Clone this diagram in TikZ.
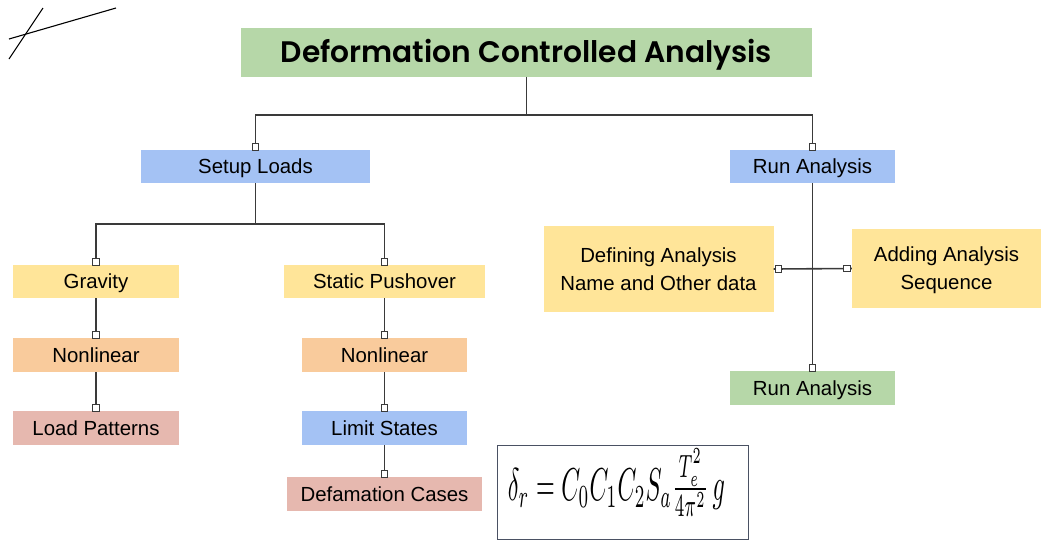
\documentclass[tikz,border=0pt]{standalone}
\usepackage{fontspec}
\usepackage{graphicx}
\setmainfont{Liberation Sans}
\newfontfamily\titlefont{Poppins SemiBold}
\definecolor{cgreen}{HTML}{B6D7A8}
\definecolor{cblue}{HTML}{A4C2F4}
\definecolor{cyellow}{HTML}{FFE599}
\definecolor{corange}{HTML}{F9CB9C}
\definecolor{cpink}{HTML}{E6B8AF}
\definecolor{cline}{HTML}{3A3A3A}
\definecolor{cframe}{HTML}{4A5163}
\begin{document}
\begin{tikzpicture}[x=1pt,y=-1pt,
  box/.style={rectangle, inner sep=0pt, draw=none, font=\fontsize{20.4}{23}\selectfont, align=center, text height=14.6pt, text depth=0pt},
  twoline/.style={font=\fontsize{20.4}{27.8}\selectfont, text height=42.4pt, text depth=0pt},
  conn/.style={draw=cline, line width=1.6pt},
  endsq/.style={rectangle, draw=cline, fill=white, line width=1.1pt, minimum size=6.5pt, inner sep=0pt}
]
\useasboundingbox (0,0) rectangle (1041,542);
\fill[white] (0,0) rectangle (1041,542);

% scribble
\coordinate (s1a) at (9,59);
\coordinate (s1b) at (43,8);
\coordinate (s2a) at (9,39);
\coordinate (s2b) at (116,8);
\draw[black, line width=1.1pt] (s1a) -- (s1b);
\draw[black, line width=1.1pt] (s2a) -- (s2b);

% nodes
\node[box, fill=cgreen, minimum width=571pt, minimum height=49pt, text height=21pt, text depth=0pt] (title) at (526.5,52.2)
  {\resizebox{491pt}{!}{\titlefont Deformation Controlled Analysis}};
\node[box, fill=cblue, minimum width=229pt, minimum height=33pt] (setup) at (255.5,166.5) {Setup Loads};
\node[box, fill=cblue, minimum width=165pt, minimum height=33pt] (run1) at (812.5,166.5) {Run Analysis};
\node[box, fill=cyellow, minimum width=166pt, minimum height=33pt] (grav) at (96,281.5) {Gravity};
\node[box, fill=cyellow, minimum width=201pt, minimum height=33pt] (push) at (384.5,281.5) {Static Pushover};
\node[box, fill=corange, minimum width=166pt, minimum height=34pt] (nonl) at (96,355) {Nonlinear};
\node[box, fill=corange, minimum width=165pt, minimum height=34pt] (nonr) at (384.5,355) {Nonlinear};
\node[box, fill=cpink, minimum width=166pt, minimum height=34pt] (load) at (96,428) {Load Patterns};
\node[box, fill=cblue, minimum width=165pt, minimum height=34pt] (limit) at (384.5,428) {Limit States};
\node[box, fill=cpink, minimum width=195pt, minimum height=34pt] (defam) at (384.5,494) {Defamation Cases};
\node[box, twoline, fill=cyellow, minimum width=230pt, minimum height=86pt] (define) at (658.5,269) {Defining Analysis\\Name and Other data};
\node[box, twoline, fill=cyellow, minimum width=189pt, minimum height=79pt] (adding) at (946.5,268.5) {Adding Analysis\\Sequence};
\node[box, fill=cgreen, minimum width=165pt, minimum height=34pt] (run2) at (812.5,388) {Run Analysis};

% formula
\node[rectangle, draw=cframe, line width=1.8pt, minimum width=251pt, minimum height=94pt, inner sep=0pt] (fbox) at (623,492.5) {};
\node[inner sep=0pt] (formula) at (616.5,482.5)
  {\resizebox*{217pt}{68pt}{$\delta_{r} = C_{0}C_{1}C_{2}S_{a}\frac{T_{e}^{2}}{4\pi^{2}}\,g$}};

% bus coordinates
\coordinate (busA) at (527,115);
\coordinate (busB) at (256,224);

% connectors
\draw[conn] (title.south) -- (title.south |- busA) -| (setup.north);
\draw[conn] (title.south |- busA) -| (run1.north);
\draw[conn] (setup.south) -- (setup.south |- busB) -| (grav.north);
\draw[conn] (setup.south |- busB) -| (push.north);
\draw[conn] (grav.south) -- (nonl.north);
\draw[conn] (nonl.south) -- (load.north);
\draw[conn] (push.south) -- (nonr.north);
\draw[conn] (nonr.south) -- (limit.north);
\draw[conn] (limit.south) -- (defam.north);
\draw[conn] (run1.south) -- (run2.north);
\draw[conn] (define.east) -- (adding.west);

% end markers
\foreach \n in {setup,run1,grav,push,nonl,load,nonr,limit,defam,run2}{
  \node[endsq, anchor=south] at ([yshift=-1pt]\n.north) {};
}
\node[endsq, anchor=west] at ([xshift=1pt]define.east) {};
\node[endsq, anchor=east] at ([xshift=-1pt]adding.west) {};
\end{tikzpicture}
\end{document}
